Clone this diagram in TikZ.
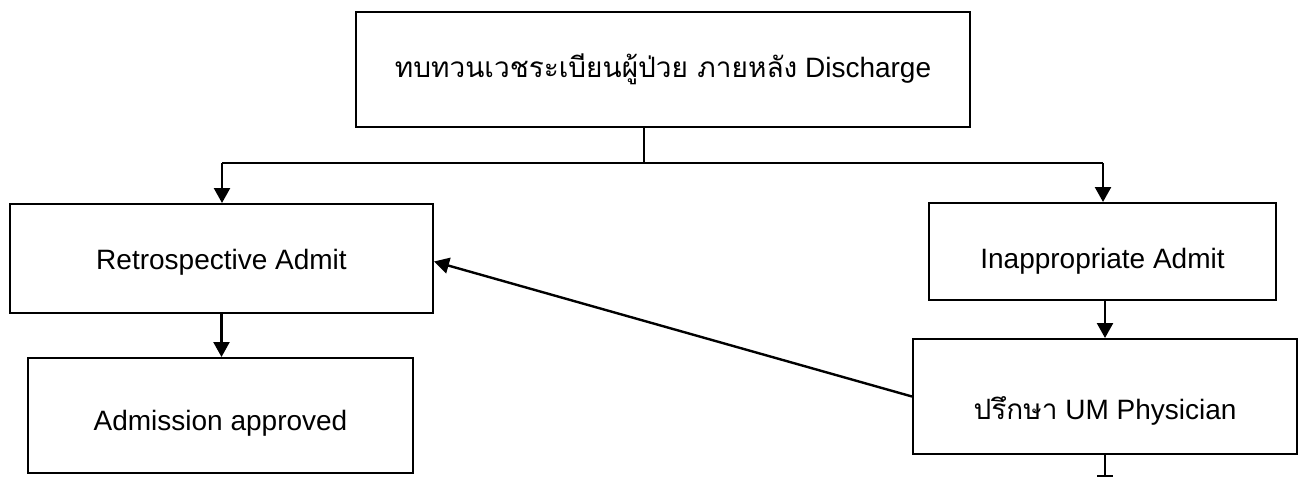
\documentclass[tikz,border=0pt]{standalone}
\usepackage{fontspec}
\setmainfont{Liberation Sans}
\newfontfamily\thaifont[Script=Thai]{Loma}
\usetikzlibrary{arrows.meta}
\begin{document}
\begin{tikzpicture}[x=1pt,y=-1pt,
  box/.style={draw=black, line width=2pt, fill=white, inner sep=0pt,
    text depth=0pt, font=\fontsize{28}{32}\selectfont},
  arr/.style={line width=2.4pt, -{Triangle[length=15pt,width=16pt]}},
  thin/.style={line width=1.6pt}]
\useasboundingbox (0,0) rectangle (1306,477);
\node[box, text height=16pt, minimum width=614pt, minimum height=115pt] (top) at (663,69.5)
  {{\thaifont ทบทวนเวชระเบียนผู้ป่วย ภายหลัง} Discharge};
\node[box, text height=22pt, minimum width=423pt, minimum height=109pt] (retro) at (221.5,258.5)
  {Retrospective Admit};
\node[box, text height=30pt, minimum width=385pt, minimum height=115pt] (appr) at (220.5,415.5)
  {Admission approved};
\node[box, text height=34pt, minimum width=347pt, minimum height=97pt] (inapp) at (1102.5,251.5)
  {Inappropriate Admit};
\node[box, text height=45pt, minimum width=384pt, minimum height=115pt] (um) at (1105,396.5)
  {{\thaifont ปรึกษา} UM Physician};
\coordinate (j) at (644,163);
\coordinate (jl) at (222,163);
\coordinate (jr) at (1103,163);
\coordinate (bt) at (1105,476);
\draw[thin] (j |- top.south) -- (j);
\draw[thin] (jl) -- (jr);
\draw[arr] (jl) -- (jl |- retro.north);
\draw[arr] (jr) -- (jr |- inapp.north);
\draw[arr] (retro.south) -- (appr.north -| retro.south);
\draw[arr] (inapp.south -| um.north) -- (um.north);
\draw[arr] (um.west) -- ([yshift=-3pt]retro.east);
\draw[line width=2.4pt] (um.south) -- (bt);
\draw[line width=2pt] ([xshift=-8pt]bt) -- ([xshift=8pt]bt);
\end{tikzpicture}
\end{document}
